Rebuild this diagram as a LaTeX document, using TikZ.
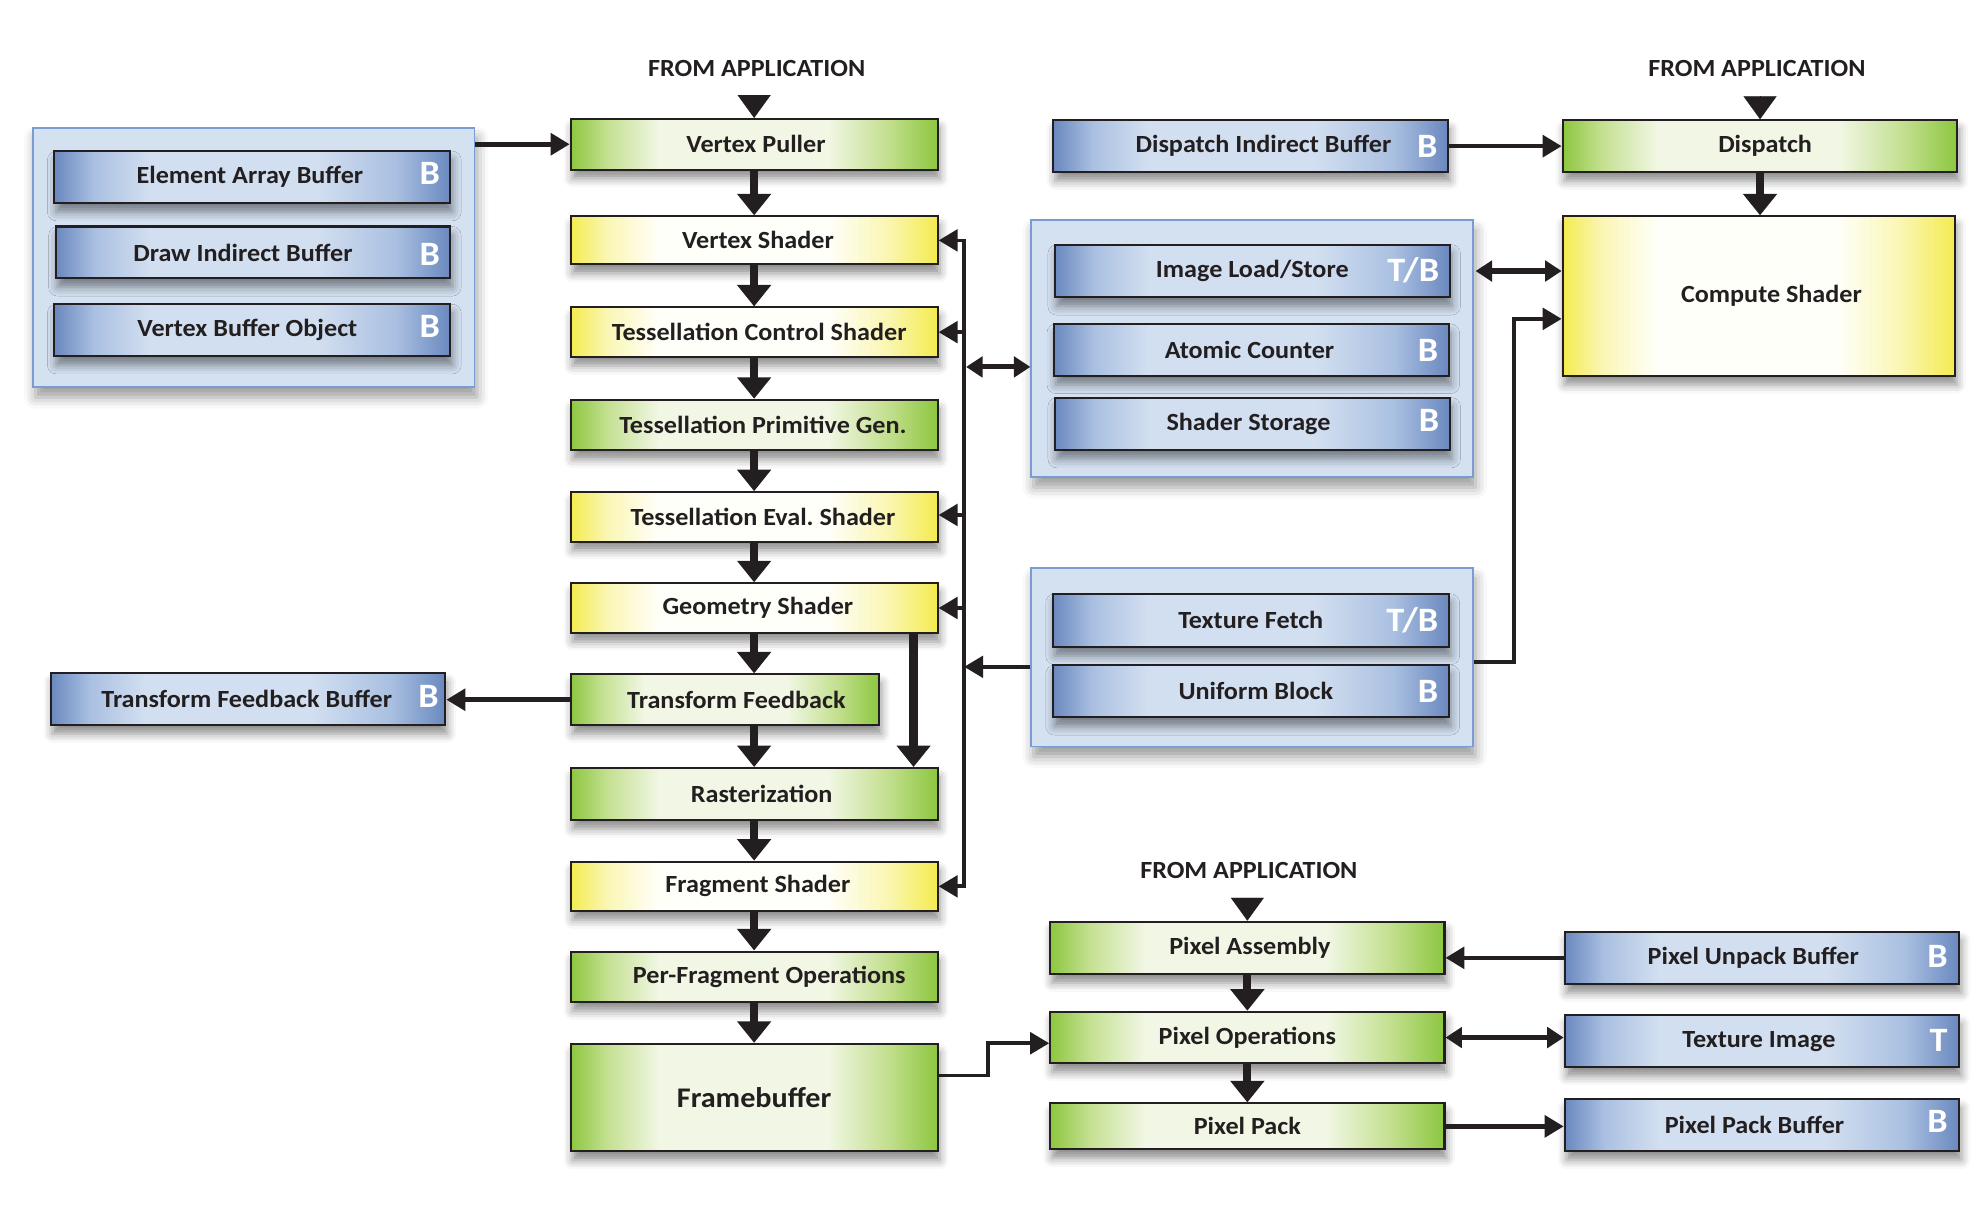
\documentclass[tikz,border=0pt]{standalone}
\usepackage{fontspec}
\setmainfont{Carlito}[FakeStretch=1.06]
\usetikzlibrary{arrows.meta,shadows.blur,calc}

\definecolor{ink}{RGB}{35,31,32}
\definecolor{gEdge}{RGB}{141,198,63}
\definecolor{gSoft}{RGB}{196,224,145}
\definecolor{gLight}{RGB}{241,247,228}
\definecolor{yEdge}{RGB}{244,235,80}
\definecolor{ySoft}{RGB}{250,246,180}
\definecolor{yLight}{RGB}{255,255,250}
\definecolor{bEdge}{RGB}{106,136,191}
\definecolor{bSoft}{RGB}{170,192,225}
\definecolor{bLight}{RGB}{210,223,240}
\definecolor{grpFill}{RGB}{212,225,241}
\definecolor{grpLine}{RGB}{122,156,210}

\pgfdeclarehorizontalshading{greenshade}{100bp}{color(0bp)=(gEdge); color(25bp)=(gEdge); color(30bp)=(gSoft); color(37bp)=(gLight); color(60bp)=(gLight); color(68bp)=(gSoft); color(75bp)=(gEdge); color(100bp)=(gEdge)}
\pgfdeclarehorizontalshading{yellowshade}{100bp}{color(0bp)=(yEdge); color(25bp)=(yEdge); color(30bp)=(ySoft); color(37bp)=(yLight); color(60bp)=(yLight); color(68bp)=(ySoft); color(75bp)=(yEdge); color(100bp)=(yEdge)}
\pgfdeclarehorizontalshading{blueshade}{100bp}{color(0bp)=(bEdge); color(25bp)=(bEdge); color(30bp)=(bSoft); color(37bp)=(bLight); color(58bp)=(bLight); color(68bp)=(bSoft); color(75bp)=(bEdge); color(100bp)=(bEdge)}

\tikzset{
  box/.style={draw=ink, line width=1.6pt, inner sep=0pt, text=ink,
    font=\bfseries\fontsize{19.5}{21}\selectfont,
    blur shadow={shadow xshift=1.5pt, shadow yshift=-7pt, shadow blur radius=7pt, shadow opacity=45}},
  gbox/.style={box, shading=greenshade},
  ybox/.style={box, shading=yellowshade},
  bbox/.style={box, shading=blueshade},
  grp/.style={draw=grpLine, line width=1.3pt, fill=grpFill,
    blur shadow={shadow xshift=2pt, shadow yshift=-8pt, shadow blur radius=9pt, shadow opacity=40}},
  blabel/.style={anchor=base east, text=white, inner sep=0pt, font=\bfseries\fontsize{27}{27}\selectfont},
  fromapp/.style={text=ink, inner sep=0pt, font=\bfseries\fontsize{19.5}{21}\selectfont},
  mainarrow/.style={draw=ink, line width=6.5pt, -{Triangle[length=17pt,width=26pt]}},
  apparrow/.style={draw=ink, line width=0.1pt, -{Triangle[length=18pt,width=26pt]}},
  busline/.style={draw=ink, line width=3pt, line cap=rect},
  busarrow/.style={draw=ink, line width=3pt, -{Triangle[length=15pt,width=17pt]}},
  dblarrow/.style={draw=ink, line width=4pt, {Triangle[length=13pt,width=16pt]}-{Triangle[length=13pt,width=16pt]}},
  sidearrow/.style={draw=ink, line width=3.6pt, -{Triangle[length=15pt,width=17pt]}},
}

\begin{document}
\frenchspacing
\begin{tikzpicture}[x=1pt,y=-1pt]
\useasboundingbox (0,0) rectangle (1568,952);

% ---------- group boxes ----------
\node[grp, minimum width=349pt, minimum height=205pt] (g0) at (200.5,203.5) {};
\node[grp, minimum width=349pt, minimum height=203pt] (g1) at (989.5,275.5) {};
\node[grp, minimum width=349pt, minimum height=141pt] (g2) at (989.5,519.5) {};

% ---------- FROM APPLICATION labels ----------
\node[fromapp] (fa1) at (598,54) {FROM APPLICATION};
\node[fromapp] (fa2) at (1388.5,54) {FROM APPLICATION};
\node[fromapp] (fa3) at (987,688) {FROM APPLICATION};
\coordinate (fa1t) at (596,76);
\coordinate (fa2t) at (1391,77);
\coordinate (fa3t) at (985.8,711);

% ---------- main pipeline ----------
\node[gbox, minimum width=290pt, minimum height=40pt] (vp)  at (596,114)   {\hspace*{3pt}Vertex Puller};
\node[ybox, minimum width=290pt, minimum height=38pt] (vs)  at (596,190)   {\hspace*{6pt}Vertex Shader};
\node[ybox, minimum width=290pt, minimum height=39pt] (tcs) at (596,262.5) {\hspace*{8pt}Tessellation Control Shader};
\node[gbox, minimum width=290pt, minimum height=40pt] (tpg) at (596,336)   {\hspace*{14pt}Tessellation Primitive Gen.};
\node[ybox, minimum width=290pt, minimum height=39pt] (tes) at (596,408.5) {\hspace*{14pt}Tessellation Eval. Shader};
\node[ybox, minimum width=290pt, minimum height=39pt] (gs)  at (596,480.5) {\hspace*{6pt}Geometry Shader};
\node[gbox, minimum width=244pt, minimum height=40pt] (tf)  at (573,553)   {\hspace*{18pt}Transform Feedback};
\node[gbox, minimum width=290pt, minimum height=41pt] (ras) at (596,627.5) {\hspace*{12pt}Rasterization};
\node[ybox, minimum width=290pt, minimum height=39pt] (fs)  at (596,700.5) {\hspace*{6pt}Fragment Shader};
\node[gbox, minimum width=290pt, minimum height=40pt] (pfo) at (596,772)   {\hspace*{24pt}Per-Fragment Operations};
\node[gbox, minimum width=290pt, minimum height=85pt, font=\bfseries\fontsize{22.5}{24}\selectfont] (fb) at (596,867.5) {Framebuffer};

% ---------- left buffers ----------
\node[bbox, minimum width=313pt, minimum height=41pt] (eab) at (199.5,140) {Element Array Buffer\hspace*{4pt}};
\node[bbox, minimum width=312pt, minimum height=41pt] (dib) at (200,199.5) {Draw Indirect Buffer\hspace*{16pt}};
\node[bbox, minimum width=313pt, minimum height=41pt] (vbo) at (199.5,261) {Vertex Buffer Object\hspace*{8pt}};
\node[bbox, minimum width=312pt, minimum height=41pt] (tfb) at (196,552.5) {Transform Feedback Buffer\hspace*{2pt}};
\node[blabel] at ($(eab.east)+(-9,6)$) {B};
\node[blabel] at ($(dib.east)+(-9,10)$) {B};
\node[blabel] at ($(vbo.east)+(-9,6)$) {B};
\node[blabel] at ($(tfb.east)+(-6,7)$) {B};

% ---------- compute part ----------
\node[bbox, minimum width=312pt, minimum height=41pt] (dpib) at (988.5,115.5) {\hspace*{20pt}Dispatch Indirect Buffer};
\node[blabel] at ($(dpib.east)+(-9,9)$) {B};
\node[gbox, minimum width=312pt, minimum height=41pt] (dsp) at (1391,115.5) {\hspace*{8pt}Dispatch};
\node[ybox, minimum width=310pt, minimum height=126pt] (cs) at (1390,234) {\hspace*{20pt}Compute Shader};

\node[bbox, minimum width=312pt, minimum height=41.6pt] (ils) at (989.7,214.2) {Image Load/Store};
\node[blabel] at ($(ils.east)+(-9,8)$) {T/B};
\node[bbox, minimum width=312pt, minimum height=41pt] (acn) at (989,276.5) {Atomic Counter\hspace*{3pt}};
\node[blabel] at ($(acn.east)+(-9,9)$) {B};
\node[bbox, minimum width=312pt, minimum height=41.4pt] (ssb) at (989.7,335) {Shader Storage\hspace*{6pt}};
\node[blabel] at ($(ssb.east)+(-9,6)$) {B};

\node[bbox, minimum width=313pt, minimum height=42pt] (tfe) at (988.5,490.3) {Texture Fetch};
\node[blabel] at ($(tfe.east)+(-9,9)$) {T/B};
\node[bbox, minimum width=313pt, minimum height=41.4pt] (ubl) at (988.5,546.3) {\hspace*{8pt}Uniform Block};
\node[blabel] at ($(ubl.east)+(-9,9)$) {B};

% ---------- pixel part ----------
\node[gbox, minimum width=311.6pt, minimum height=41.4pt] (pa) at (985.8,749.1) {\hspace*{4pt}Pixel Assembly};
\node[gbox, minimum width=311.6pt, minimum height=40.8pt] (po) at (985.8,820) {Pixel Operations};
\node[gbox, minimum width=311.6pt, minimum height=36.3pt] (pp) at (985.8,890.2) {Pixel Pack};
\node[bbox, minimum width=312pt, minimum height=41.4pt] (pub) at (1392.6,757) {Pixel Unpack Buffer\hspace*{14pt}};
\node[blabel] at ($(pub.east)+(-10,8)$) {B};
\node[bbox, minimum width=312pt, minimum height=41.3pt] (tim) at (1392.6,822.9) {Texture Image\hspace*{5pt}};
\node[blabel] at ($(tim.east)+(-10,8)$) {T};
\node[bbox, minimum width=312pt, minimum height=41.1pt] (ppb) at (1392.6,889.2) {Pixel Pack Buffer\hspace*{12pt}};
\node[blabel] at ($(ppb.east)+(-10,6)$) {B};

% ---------- connectors ----------
\draw[apparrow] (fa1t) -- (vp.north);
\draw[apparrow] (fa2t) -- (dsp.north);
\draw[apparrow] (fa3t) -- (pa.north);

\draw[mainarrow] (vp.south) -- (vs.north);
\draw[mainarrow] (vs.south) -- (tcs.north);
\draw[mainarrow] (tcs.south) -- (tpg.north);
\draw[mainarrow] (tpg.south) -- (tes.north);
\draw[mainarrow] (tes.south) -- (gs.north);
\draw[mainarrow] (gs.south) -- (gs.south |- tf.north);
\draw[mainarrow] (ras.north |- tf.south) -- (ras.north);
\draw[mainarrow] ($(gs.south)+(126,0)$) -- ($(ras.north)+(126,0)$);
\draw[mainarrow] (ras.south) -- (fs.north);
\draw[mainarrow] (fs.south) -- (pfo.north);
\draw[mainarrow] (pfo.south) -- (fb.north);
\draw[mainarrow] (dsp.south) -- (dsp.south |- cs.north);
\draw[mainarrow] (pa.south) -- (po.north);
\draw[mainarrow] (po.south) -- (pp.north);

\draw[sidearrow] (vp.west -| g0.east) -- (vp.west);
\draw[sidearrow] (tf.west) -- (tf.west -| tfb.east);
\draw[sidearrow] (dpib.east) -- (dpib.east -| dsp.west);

% shader resource bus
\coordinate (busx) at (762,0);
\draw[busline] (vs.east -| busx) -- (fs.east -| busx);
\draw[busarrow] (vs.east -| busx) -- (vs.east);
\draw[busarrow] (tcs.east -| busx) -- (tcs.east);
\draw[busarrow] ($(tes.east -| busx)+(0,-1.5)$) -- ($(tes.east)+(0,-1.5)$);
\draw[busarrow] (gs.east -| busx) -- (gs.east);
\draw[busarrow] (fs.east -| busx) -- (fs.east);
\coordinate (g1in) at ($(g1.west)+(0,14.5)$);
\draw[dblarrow] ($(g1in -| busx)+(1.5,0)$) -- (g1in);
\coordinate (g2out) at ($(g2.west)+(0,7.5)$);
\draw[busarrow] (g2out) -- (g2out -| busx);

% compute connections
\draw[dblarrow] ($(ils.east -| g1.east)+(1.5,0)$) -- (ils.east -| cs.west);
\coordinate (csin) at ($(cs.west)+(0,18)$);
\draw[busarrow, line width=3.2pt] ($(g2.east)+(0,4)$) -- ++(32,0) |- (csin);

% pixel connections
\draw[sidearrow] (pub.west) -- (pub.west -| pa.east);
\draw[dblarrow, line width=4.2pt] (po.east) -- (po.east -| tim.west);
\draw[sidearrow] (pp.east) -- (pp.east -| ppb.west);
\draw[busarrow] ($(fb.east)+(0,-17.5)$) -- ++(39,0) |- ($(po.west)+(0,4.5)$);

\end{tikzpicture}
\end{document}
